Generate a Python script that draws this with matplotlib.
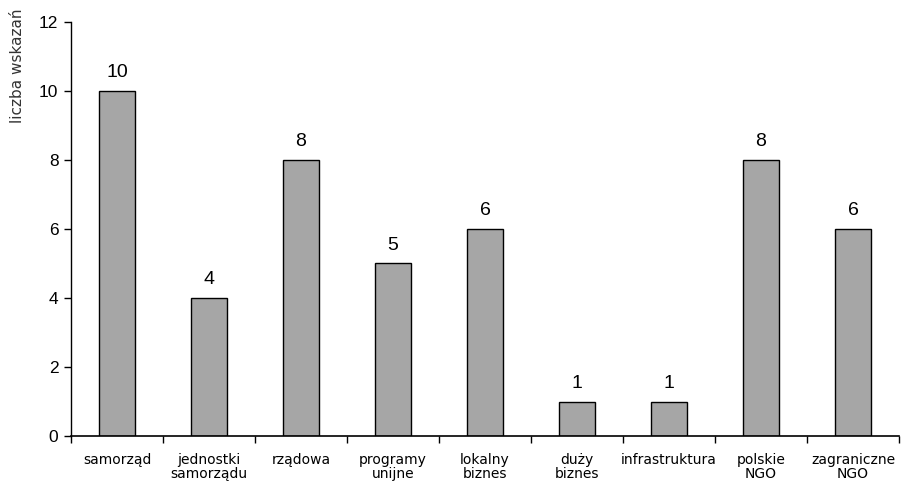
import matplotlib
matplotlib.use("Agg")
import matplotlib.pyplot as plt
import numpy as np

categories = ["samorząd", "jednostki\nsamorządu", "rządowa", "programy\nunijne",
              "lokalny\nbiznes", "duży\nbiznes", "infrastruktura", "polskie\nNGO",
              "zagraniczne\nNGO"]
values = [10, 4, 8, 5, 6, 1, 1, 8, 6]
y_ticks = [0, 2, 4, 6, 8, 10, 12]

fig = plt.figure(figsize=(9.01, 4.83), dpi=100)
ax = fig.add_axes([0.0788, 0.0973, 0.919, 0.8572])

x = np.arange(len(categories))
ax.bar(x, values, width=0.4, color="#a6a6a6", edgecolor="black", linewidth=1.0)

for xi, v in zip(x, values):
    ax.text(xi, v + 0.28, str(v), ha="center", va="bottom",
            fontsize=14, family="Liberation Sans")

ax.set_xlim(-0.5, len(categories) - 0.5)
ax.set_ylim(0, 12)
ax.set_yticks(y_ticks)
ax.set_yticklabels([str(t) for t in y_ticks], family="Liberation Sans", fontsize=12.5)
ax.tick_params(axis="y", direction="out", length=5, width=1, pad=4)

ax.set_xticks(x)
ax.set_xticklabels(categories, fontsize=10, family="DejaVu Sans", linespacing=1.02)
ax.tick_params(axis="x", which="major", length=0, pad=12)
ax.set_xticks(np.arange(-0.5, len(categories), 1.0), minor=True)
ax.tick_params(axis="x", which="minor", direction="out", length=5, width=1)

for side in ("top", "right"):
    ax.spines[side].set_visible(False)
ax.spines["left"].set_linewidth(1)
ax.spines["bottom"].set_linewidth(1.2)

ax.set_ylabel("liczba wskazań", fontsize=11, family="DejaVu Sans", color="#333333")
ax.yaxis.set_label_coords(-0.0556, 0.894)

fig.savefig("out.png", dpi=100)
